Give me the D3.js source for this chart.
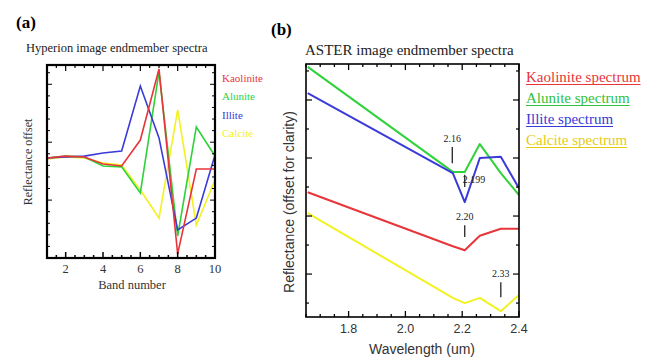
<!DOCTYPE html>
<html>
<head>
<meta charset="utf-8">
<script src="https://cdnjs.cloudflare.com/ajax/libs/d3/7.8.5/d3.min.js"></script>
<style>
  body { margin: 0; background: #fff; }
  svg { display: block; }
  .serif { font-family: "Liberation Serif", "DejaVu Serif", serif; }
  .sans { font-family: "Liberation Sans", Arial, sans-serif; }
</style>
</head>
<body>
<svg id="chart" width="650" height="357"></svg>
<script>
// ---- (a) Hyperion data ----
var bands = [1, 2, 3, 4, 5, 6, 7, 8, 9, 10];
var hypKaolinite = [5.18, 5.28, 5.23, 4.87, 4.77, 6.11, 9.79, 0.21, 4.61, 4.61];
var hypAlunite   = [5.18, 5.28, 5.23, 4.77, 4.72, 3.37, 9.64, 1.14, 6.79, 5.28];
var hypIllite    = [5.18, 5.23, 5.28, 5.44, 5.54, 8.91, 6.22, 1.45, 2.07, 5.34];
var hypCalcite   = [5.13, 5.23, 5.18, 4.92, 4.82, 3.52, 2.07, 7.67, 1.71, 4.04];
var bandTicks = [2, 4, 6, 8, 10];
var hypNames = ["Kaolinite", "Alunite", "Illite", "Calcite"];

// ---- (b) ASTER data ----
var wavelengths = [1.656, 2.167, 2.209, 2.262, 2.336, 2.400];
var astKaolinite = [1.41, 0.48, 0.41, 0.66, 0.78, 0.78];
var astAlunite   = [3.57, 1.76, 1.76, 2.24, 1.74, 1.36];
var astIllite    = [3.12, 1.74, 1.24, 2.00, 2.02, 1.48];
var astCalcite   = [1.05, -0.41, -0.50, -0.41, -0.64, -0.36];
var wlTicks = [1.8, 2.0, 2.2, 2.4];
var astNames = ["Kaolinite spectrum", "Alunite spectrum", "Illite spectrum", "Calcite spectrum"];

// absorption feature labels
var annText = ["2.16", "2.199", "2.20", "2.33"];
var annWl   = [2.165, 2.209, 2.209, 2.336];
var annTop  = [2.19, 1.71, 0.84, -0.14];
var annBot  = [1.91, 1.50, 0.64, -0.40];

var colors = ["#e8353a", "#2fd23a", "#3a3ad8", "#f2f222"];
var legendColors = ["#e8353a", "#2fc23a", "#3a3ad8", "#e6cc10"];

var svg = d3.select("#chart");

// ================= panel (a) =================
var ax = d3.scaleLinear().domain([1, 10]).range([47, 215]);
var ay = d3.scaleLinear().domain([0, 10]).range([258, 65]);

svg.append("text").attr("class", "serif")
    .attr("x", 16).attr("y", 28)
    .attr("font-size", 17).attr("font-weight", "bold")
    .text("(a)");
svg.append("text").attr("class", "serif")
    .attr("x", 26).attr("y", 52)
    .attr("font-size", 12.5).attr("fill", "#222")
    .text("Hyperion image endmember spectra");

var ga = svg.append("g");
var lineA = d3.line()
    .x(function (d, i) { return ax(bands[i]); })
    .y(function (d) { return ay(d); });

// clip
svg.append("clipPath").attr("id", "clipA").append("rect")
    .attr("x", 47).attr("y", 65).attr("width", 168).attr("height", 193);
svg.append("clipPath").attr("id", "clipB").append("rect")
    .attr("x", 306).attr("y", 64).attr("width", 213).attr("height", 253);

var hypSeries = [hypKaolinite, hypAlunite, hypIllite, hypCalcite];
// draw in order so red ends on top like reference
[3, 1, 2, 0].forEach(function (k) {
    ga.append("path")
        .attr("d", lineA(hypSeries[k]))
        .attr("fill", "none")
        .attr("stroke", colors[k])
        .attr("stroke-width", 1.6)
        .attr("clip-path", "url(#clipA)");
});

// ticks for (a)
var aMinorX = d3.range(1, 10.01, 0.5);
var aMinorY = d3.range(0, 10.01, 0.6);
aMinorX.forEach(function (t) {
    var len = (t % 2 === 0) ? 6 : 3;
    ga.append("line").attr("x1", ax(t)).attr("x2", ax(t))
        .attr("y1", 258).attr("y2", 258 - len).attr("stroke", "#000").attr("stroke-width", 1.5);
    ga.append("line").attr("x1", ax(t)).attr("x2", ax(t))
        .attr("y1", 65).attr("y2", 65 + len).attr("stroke", "#000").attr("stroke-width", 1.2);
});
aMinorY.forEach(function (t, i) {
    var len = (i % 5 === 0) ? 5 : 3;
    ga.append("line").attr("x1", 47).attr("x2", 47 + len)
        .attr("y1", ay(t)).attr("y2", ay(t)).attr("stroke", "#000").attr("stroke-width", 1);
    ga.append("line").attr("x1", 215).attr("x2", 215 - len)
        .attr("y1", ay(t)).attr("y2", ay(t)).attr("stroke", "#000").attr("stroke-width", 1);
});
ga.append("rect").attr("x", 47).attr("y", 65).attr("width", 168).attr("height", 193)
    .attr("fill", "none").attr("stroke", "#000").attr("stroke-width", 2.2);

ga.selectAll(".bt").data(bandTicks).enter().append("text")
    .attr("class", "serif")
    .attr("x", function (d) { return ax(d); })
    .attr("y", 273)
    .attr("text-anchor", "middle")
    .attr("font-size", 12.5).attr("fill", "#333")
    .text(function (d) { return d; });

svg.append("text").attr("class", "serif")
    .attr("x", 132).attr("y", 289).attr("text-anchor", "middle")
    .attr("font-size", 12.5).attr("fill", "#333")
    .text("Band number");
svg.append("text").attr("class", "serif")
    .attr("transform", "translate(32,162) rotate(-90)")
    .attr("text-anchor", "middle")
    .attr("font-size", 12).attr("fill", "#333")
    .text("Reflectance offset");

hypNames.forEach(function (n, i) {
    svg.append("text").attr("class", "serif")
        .attr("x", 222).attr("y", 82 + i * 18.3)
        .attr("font-size", 11).attr("fill", colors[i])
        .text(n);
});

// ================= panel (b) =================
var bx = d3.scaleLinear().domain([1.65, 2.4]).range([306, 519]);
var by = d3.scaleLinear().domain([-0.74, 3.62]).range([317, 64]);

svg.append("text").attr("class", "serif")
    .attr("x", 271).attr("y", 35)
    .attr("font-size", 17).attr("font-weight", "bold")
    .text("(b)");
svg.append("text").attr("class", "serif")
    .attr("x", 305).attr("y", 55)
    .attr("font-size", 15).attr("fill", "#222")
    .text("ASTER image endmember spectra");

var gb = svg.append("g");
var lineB = d3.line()
    .x(function (d, i) { return bx(wavelengths[i]); })
    .y(function (d) { return by(d); });

var astSeries = [astKaolinite, astAlunite, astIllite, astCalcite];
[3, 0, 1, 2].forEach(function (k) {
    gb.append("path")
        .attr("d", lineB(astSeries[k]))
        .attr("fill", "none")
        .attr("stroke", colors[k])
        .attr("stroke-width", 2)
        .attr("stroke-linejoin", "round")
        .attr("clip-path", "url(#clipB)");
});

// ticks for (b)
d3.range(1.65, 2.401, 0.05).forEach(function (t) {
    var major = Math.abs((t * 10) % 2) < 0.01 || Math.abs((t * 10) % 2 - 2) < 0.01;
    var len = major ? 6 : 3;
    gb.append("line").attr("x1", bx(t)).attr("x2", bx(t))
        .attr("y1", 317).attr("y2", 317 - len).attr("stroke", "#000").attr("stroke-width", 1.3);
    gb.append("line").attr("x1", bx(t)).attr("x2", bx(t))
        .attr("y1", 64).attr("y2", 64 + len).attr("stroke", "#000").attr("stroke-width", 1.3);
});
d3.range(-0.5, 3.51, 0.5).forEach(function (t) {
    var len = (t % 1 === 0) ? 6 : 3;
    gb.append("line").attr("x1", 306).attr("x2", 306 + len)
        .attr("y1", by(t)).attr("y2", by(t)).attr("stroke", "#000").attr("stroke-width", 1.2);
    gb.append("line").attr("x1", 519).attr("x2", 519 - len)
        .attr("y1", by(t)).attr("y2", by(t)).attr("stroke", "#000").attr("stroke-width", 1.2);
});
gb.append("rect").attr("x", 306).attr("y", 64).attr("width", 213).attr("height", 253)
    .attr("fill", "none").attr("stroke", "#000").attr("stroke-width", 1.6);

gb.selectAll(".wt").data(wlTicks).enter().append("text")
    .attr("class", "sans")
    .attr("x", function (d) { return bx(d); })
    .attr("y", 333)
    .attr("text-anchor", "middle")
    .attr("font-size", 12.5).attr("fill", "#333")
    .text(function (d) { return d.toFixed(1); });

svg.append("text").attr("class", "sans")
    .attr("x", 422).attr("y", 354).attr("text-anchor", "middle")
    .attr("font-size", 14).attr("fill", "#333")
    .text("Wavelength (um)");
svg.append("text").attr("class", "sans")
    .attr("transform", "translate(294,202) rotate(-90)")
    .attr("text-anchor", "middle")
    .attr("font-size", 14).attr("fill", "#333")
    .text("Reflectance (offset for clarity)");

// absorption annotations
annText.forEach(function (t, i) {
    var x = bx(annWl[i]);
    gb.append("line").attr("x1", x).attr("x2", x)
        .attr("y1", by(annTop[i])).attr("y2", by(annBot[i]))
        .attr("stroke", "#111").attr("stroke-width", 1.2);
    gb.append("text").attr("class", "serif")
        .attr("x", i === 1 ? x - 2 : x)
        .attr("y", i === 1 ? by(annBot[i]) - 4 : by(annTop[i]) - 5)
        .attr("text-anchor", i === 1 ? "start" : "middle")
        .attr("font-size", 10).attr("fill", "#222")
        .text(t);
});

astNames.forEach(function (n, i) {
    var y = 82 + i * 21;
    var t = svg.append("text").attr("class", "serif")
        .attr("x", 526).attr("y", y)
        .attr("font-size", 15).attr("fill", legendColors[i])
        .text(n);
    var w = t.node().getComputedTextLength();
    svg.append("line").attr("x1", 526).attr("x2", 526 + w)
        .attr("y1", y + 2.5).attr("y2", y + 2.5)
        .attr("stroke", legendColors[i]).attr("stroke-width", 1);
});
</script>
</body>
</html>
